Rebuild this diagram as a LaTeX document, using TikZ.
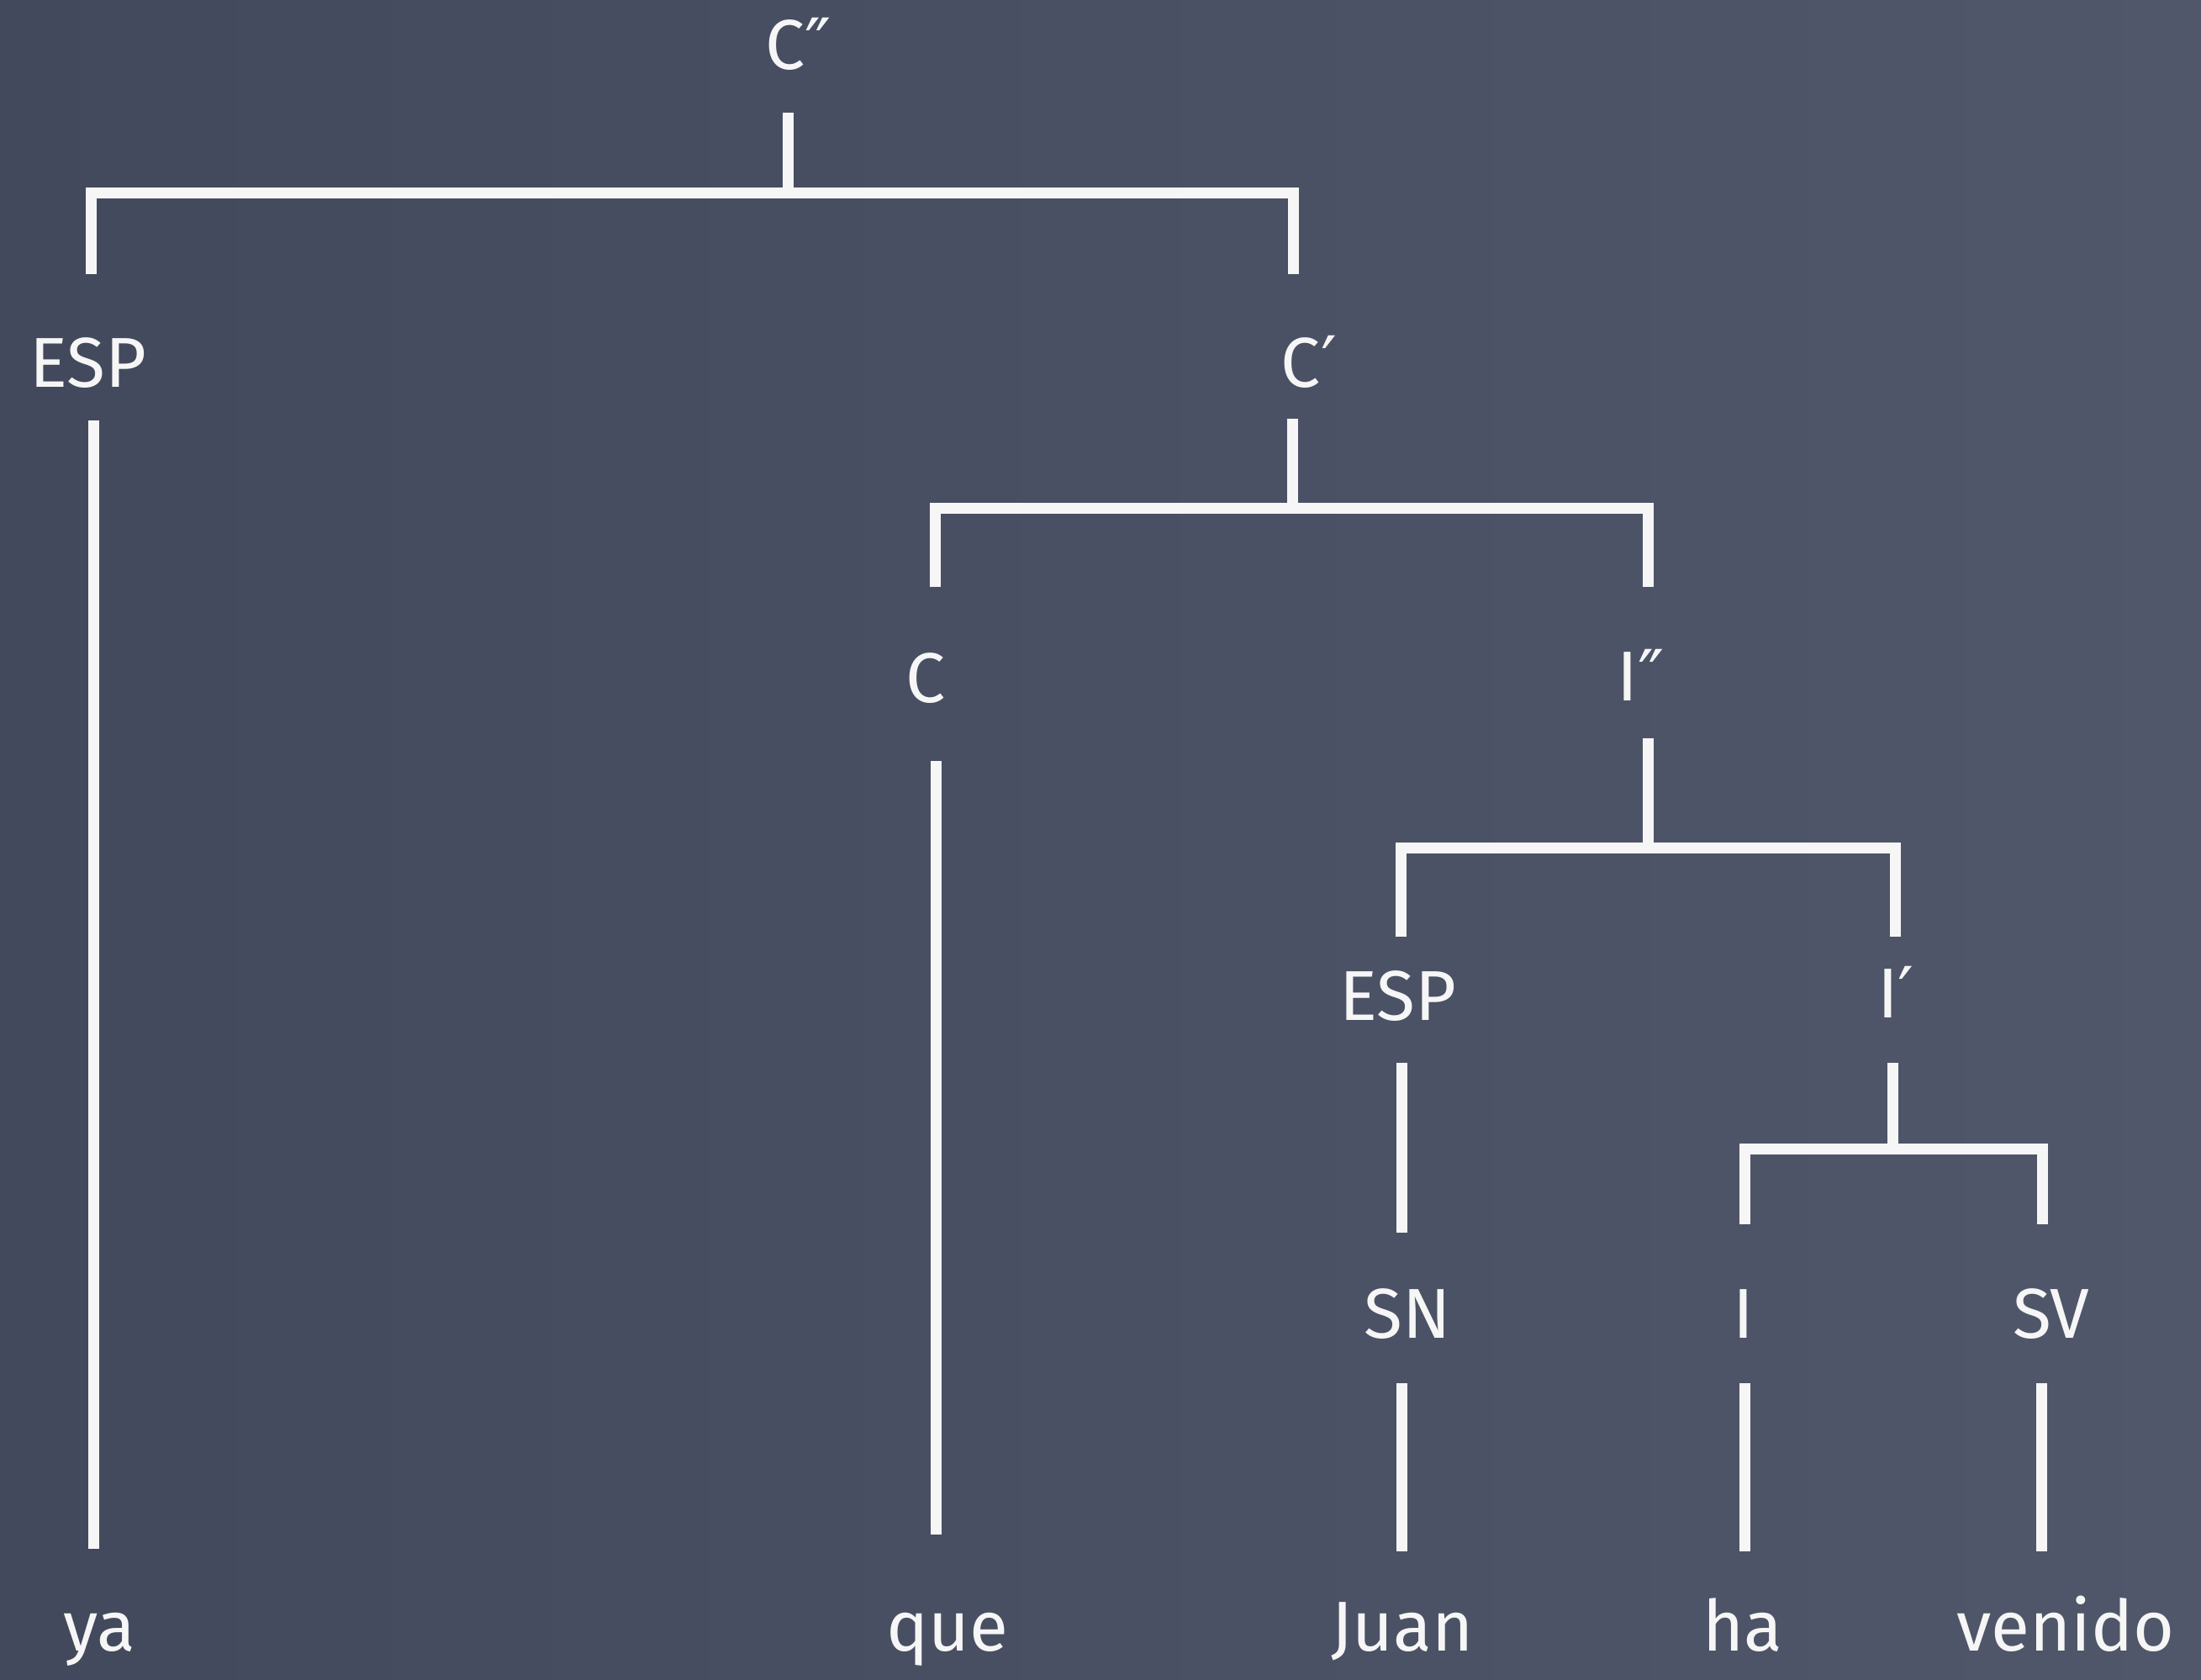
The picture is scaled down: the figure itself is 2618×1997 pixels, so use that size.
\documentclass[tikz,border=0pt]{standalone}
\usepackage{fontspec}
\setmainfont{Fira Sans}
\newfontfamily\prm{DejaVu Sans}
\definecolor{boardL}{RGB}{66,73,92}
\definecolor{boardR}{RGB}{80,87,106}
\definecolor{chalk}{RGB}{246,246,246}
\begin{document}
\begin{tikzpicture}[x=1pt,y=-1pt,
  lbl/.style={anchor=base,text=chalk,inner sep=0pt,font=\fontsize{84}{100}\selectfont},
  wrd/.style={lbl},
  chalkline/.style={draw=chalk,line width=13pt,line cap=butt,line join=miter}]
\useasboundingbox (0,0) rectangle (2618,1997);
\shade[left color=boardL,right color=boardR]
  (0,0) rectangle (2618,1997);

% labels
\node[lbl] (Cpp)  at (950,82)   {C{\prm ″}};
\node[lbl] (ESPa) at (105,460)  {ESP};
\node[lbl] (Cp)   at (1557,460) {C{\prm ′}};
\node[lbl] (C)    at (1101,835) {C};
\node[lbl] (Ipp)  at (1952,833) {I{\prm ″}};
\node[lbl] (ESPb) at (1663,1213){ESP};
\node[lbl] (Ip)   at (2255,1210){I{\prm ′}};
\node[lbl] (SN)   at (1674,1591){SN};
\node[lbl] (I)    at (2074,1591){I};
\node[lbl] (SV)   at (2440,1591){SV};
\node[wrd] (ya)     at (118,1963)  {ya};
\node[wrd] (que)    at (1127,1963) {que};
\node[wrd] (Juan)   at (1668,1963) {Juan};
\node[wrd] (ha)     at (2073,1963) {ha};
\node[wrd] (venido) at (2457,1963) {venido};

% line ends
\coordinate (Cpp-b) at (937,134);
\coordinate (j1) at (937,229);
\coordinate (ESPa-t) at (108,326);
\coordinate (Cp-t) at (1538,326);
\coordinate (ESPa-b) at (111,500);
\coordinate (ya-t) at (111,1842);
\coordinate (Cp-b) at (1537,498);
\coordinate (j2) at (1537,604);
\coordinate (C-t) at (1112,698);
\coordinate (Ipp-t) at (1960,698);
\coordinate (C-b) at (1113,905);
\coordinate (que-t) at (1113,1825);
\coordinate (Ipp-b) at (1960,878);
\coordinate (j3) at (1960,1008);
\coordinate (ESPb-t) at (1666,1114);
\coordinate (Ip-t) at (2254,1114);
\coordinate (ESPb-b) at (1667,1264);
\coordinate (SN-t) at (1667,1466);
\coordinate (SN-b) at (1667,1645);
\coordinate (Juan-t) at (1667,1845);
\coordinate (Ip-b) at (2251,1264);
\coordinate (j4) at (2251,1366);
\coordinate (I-t) at (2075,1456);
\coordinate (SV-t) at (2429,1456);
\coordinate (I-b) at (2075,1645);
\coordinate (ha-t) at (2075,1845);
\coordinate (SV-b) at (2428,1645);
\coordinate (venido-t) at (2428,1845);

% tree lines
\draw[chalkline] (Cpp-b) -- (j1);
\draw[chalkline] (ESPa-t) -- (ESPa-t |- j1) -- (Cp-t |- j1) -- (Cp-t);
\draw[chalkline] (ESPa-b) -- (ya-t);
\draw[chalkline] (Cp-b) -- (j2);
\draw[chalkline] (C-t) -- (C-t |- j2) -- (Ipp-t |- j2) -- (Ipp-t);
\draw[chalkline] (C-b) -- (que-t);
\draw[chalkline] (Ipp-b) -- (j3);
\draw[chalkline] (ESPb-t) -- (ESPb-t |- j3) -- (Ip-t |- j3) -- (Ip-t);
\draw[chalkline] (ESPb-b) -- (SN-t);
\draw[chalkline] (SN-b) -- (Juan-t);
\draw[chalkline] (Ip-b) -- (j4);
\draw[chalkline] (I-t) -- (I-t |- j4) -- (SV-t |- j4) -- (SV-t);
\draw[chalkline] (I-b) -- (ha-t);
\draw[chalkline] (SV-b) -- (venido-t);
\end{tikzpicture}
\end{document}
